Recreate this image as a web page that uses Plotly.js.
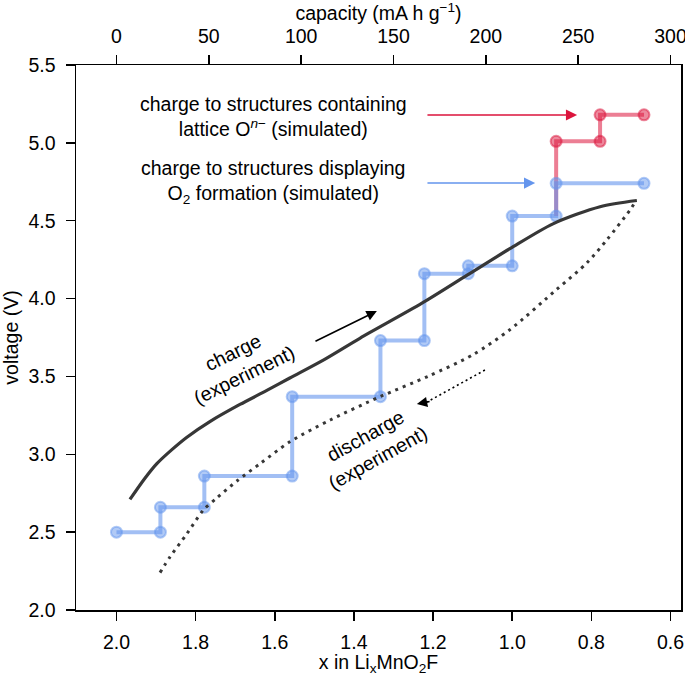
<!DOCTYPE html>
<html>
<head>
<meta charset="utf-8">
<script src="https://cdn.plot.ly/plotly-3.0.1.min.js"></script>
<style>html,body{margin:0;padding:0;background:#fff;}#chart{width:685px;height:676px;}</style>
</head>
<body>
<div id="chart"></div>
<script>
// Tick labels
const liTicks = [2.0, 1.8, 1.6, 1.4, 1.2, 1.0, 0.8, 0.6];
const capTicks = [0, 50, 100, 150, 200, 250, 300];
const voltTicks = [2.0, 2.5, 3.0, 3.5, 4.0, 4.5, 5.0, 5.5];

// Simulated: charge to structures displaying O2 formation
const o2X = [2.000, 1.889, 1.889, 1.778, 1.778, 1.556, 1.556, 1.333, 1.333, 1.222, 1.222, 1.111, 1.111, 1.000, 1.000, 0.889, 0.889, 0.667];
const o2V = [2.50, 2.50, 2.66, 2.66, 2.86, 2.86, 3.37, 3.37, 3.73, 3.73, 4.16, 4.16, 4.21, 4.21, 4.53, 4.53, 4.74, 4.74];

// Simulated: charge to structures containing lattice O^n-
const latX = [0.889, 0.889, 0.778, 0.778, 0.667];
const latV = [4.53, 5.01, 5.01, 5.18, 5.18];

// Experiment: charge
const chgX = [1.966, 1.930, 1.898, 1.860, 1.822, 1.764, 1.688, 1.620, 1.562, 1.474, 1.385, 1.228, 1.114, 1.006, 0.897, 0.778, 0.685];
const chgV = [2.71, 2.84, 2.94, 3.03, 3.11, 3.21, 3.32, 3.41, 3.49, 3.61, 3.745, 3.97, 4.15, 4.32, 4.48, 4.59, 4.63];

// Experiment: discharge
const disX = [1.890, 1.865, 1.822, 1.781, 1.746, 1.695, 1.637, 1.562, 1.460, 1.334, 1.213, 1.099, 1.006, 0.887, 0.811, 0.760, 0.702, 0.687];
const disV = [2.24, 2.34, 2.49, 2.64, 2.72, 2.83, 2.94, 3.08, 3.22, 3.37, 3.50, 3.64, 3.80, 4.06, 4.23, 4.38, 4.57, 4.63];

const xRange = [2.1023, 0.5735];
const toCap = x => (2.0 - x) * 300 / 1.4;

const blue = 'rgba(100,149,237,0.6)';
const blueM = 'rgba(100,149,237,0.5)';
const red = 'rgba(220,20,60,0.55)';
const redM = 'rgba(220,20,60,0.5)';
const dark = 'rgb(55,55,55)';

const traces = [
  {x: latX, y: latV, mode: 'lines', line: {color: red, width: 4}, hoverinfo: 'skip'},
  {x: latX.slice(1), y: latV.slice(1), mode: 'markers',
   marker: {size: 11, color: redM, line: {color: redM, width: 2}}, hoverinfo: 'skip'},
  {x: o2X, y: o2V, mode: 'lines+markers', line: {color: blue, width: 4},
   marker: {size: 11, color: blueM, line: {color: blueM, width: 2}}, hoverinfo: 'skip'},
  {x: chgX, y: chgV, mode: 'lines', line: {color: dark, width: 3.2, shape: 'spline', smoothing: 0.8}},
  {x: disX, y: disV, mode: 'lines', line: {color: dark, width: 3, dash: '3px,5px', shape: 'spline', smoothing: 0.8}},
  // empty trace so the top (capacity) axis is drawn
  {x: [], y: [], xaxis: 'x2', yaxis: 'y', mode: 'markers', hoverinfo: 'skip'}
];

const fam = 'Liberation Sans, Arial, Helvetica, sans-serif';
const fnt = {family: fam, size: 19.5, color: '#000'};
const tfnt = {family: fam, size: 19.5, color: '#000'};

const layout = {
  width: 685, height: 676,
  margin: {l: 76, r: 4, t: 65, b: 66, pad: 0},
  paper_bgcolor: '#fff', plot_bgcolor: '#fff',
  showlegend: false,
  font: fnt,
  xaxis: {
    range: xRange, tickvals: liTicks, tickformat: '.1f',
    ticks: 'outside', ticklen: 9, tickwidth: 1.5, tickcolor: '#000',
    ticklabelstandoff: 5, ticklabeloverflow: 'allow',
    showline: true, linecolor: '#000', linewidth: 1.5,
    showgrid: false, zeroline: false, tickfont: tfnt,
    title: {text: 'x in Li<sub>x</sub>MnO<sub>2</sub>F', font: fnt, standoff: 2}
  },
  xaxis2: {
    overlaying: 'x', side: 'top', anchor: 'y',
    range: xRange.map(toCap), tickvals: capTicks,
    ticks: 'outside', ticklen: 9, tickwidth: 1.5, tickcolor: '#000',
    ticklabelstandoff: 4, ticklabeloverflow: 'allow',
    showline: true, linecolor: '#000', linewidth: 1.5,
    showgrid: false, zeroline: false, tickfont: tfnt,
    title: {text: 'capacity (mA h g<sup>−1</sup>)', font: fnt, standoff: 2}
  },
  yaxis: {
    range: [2.0, 5.5], tickvals: voltTicks, tickformat: '.1f',
    ticks: 'outside', ticklen: 9, tickwidth: 1.5, tickcolor: '#000',
    ticklabelstandoff: 6,
    showline: true, mirror: true, linecolor: '#000', linewidth: 1.5,
    showgrid: false, zeroline: false, tickfont: tfnt,
    title: {text: 'voltage (V)', font: fnt, standoff: 4}
  },
  annotations: [
    {x: 1.604, y: 5.172, xref: 'x', yref: 'y', showarrow: false, align: 'center',
     text: 'charge to structures containing<br>lattice O<sup><i>n</i>−</sup> (simulated)', font: fnt},
    {x: 1.604, y: 4.749, xref: 'x', yref: 'y', showarrow: false, align: 'center',
     text: 'charge to structures displaying<br>O<sub>2</sub> formation (simulated)', font: fnt},
    {x: 0.836, y: 5.179, ax: 1.218, ay: 5.179, xref: 'x', yref: 'y', axref: 'x', ayref: 'y',
     showarrow: true, arrowhead: 2, arrowsize: 1.4, arrowwidth: 1.6, arrowcolor: 'rgb(220,20,60)', text: ''},
    {x: 0.942, y: 4.742, ax: 1.218, ay: 4.742, xref: 'x', yref: 'y', axref: 'x', ayref: 'y',
     showarrow: true, arrowhead: 2, arrowsize: 1.4, arrowwidth: 1.6, arrowcolor: 'rgb(100,149,237)', text: ''},
    {x: 1.342, y: 3.920, ax: 1.501, ay: 3.721, xref: 'x', yref: 'y', axref: 'x', ayref: 'y',
     showarrow: true, arrowhead: 2, arrowsize: 1.3, arrowwidth: 1.6, arrowcolor: '#000', text: ''},
    {x: 1.241, y: 3.323, ax: 1.205, ay: 3.341, xref: 'x', yref: 'y', axref: 'x', ayref: 'y',
     showarrow: true, arrowhead: 2, arrowsize: 1.3, arrowwidth: 1.6, arrowcolor: '#000', text: ''},
    {x: 1.692, y: 3.580, xref: 'x', yref: 'y', showarrow: false, align: 'center', textangle: -26,
     text: 'charge<br>(experiment)', font: fnt},
    {x: 1.355, y: 3.047, xref: 'x', yref: 'y', showarrow: false, align: 'center', textangle: -29,
     text: 'discharge<br>(experiment)', font: fnt}
  ],
  shapes: [
    {type: 'line', xref: 'x', yref: 'y', x0: 1.069, y0: 3.541, x1: 1.215, y1: 3.336,
     line: {color: '#000', width: 1.6, dash: '2px,3px'}}
  ]
};

Plotly.newPlot('chart', traces, layout, {displayModeBar: false, staticPlot: true});
</script>
</body>
</html>
